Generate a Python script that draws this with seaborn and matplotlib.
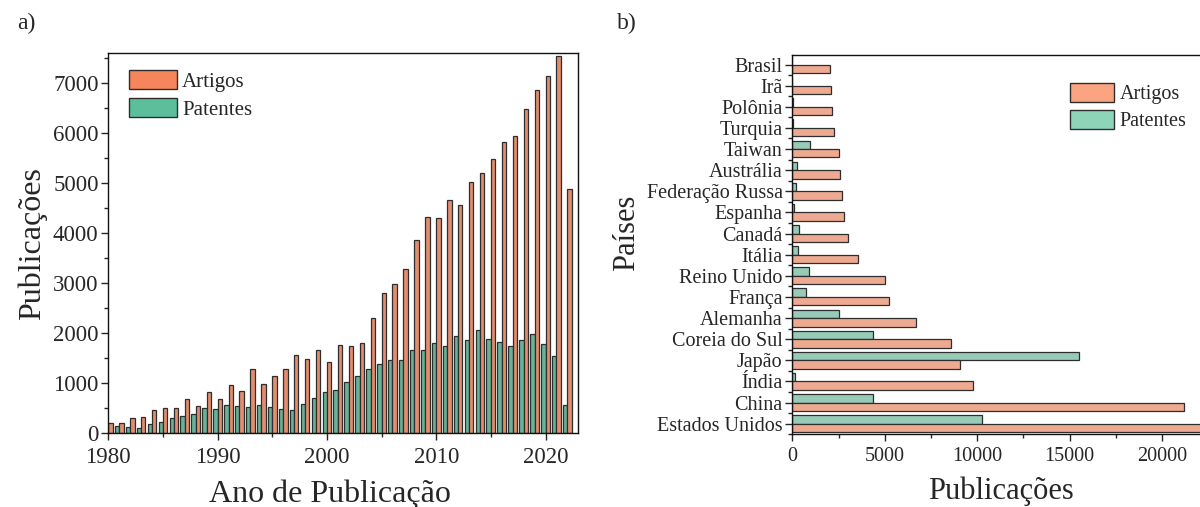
import numpy as np
import pandas as pd
import matplotlib
matplotlib.use("Agg")
import matplotlib.pyplot as plt
from matplotlib.ticker import MultipleLocator, FixedLocator
from matplotlib.patches import Patch
import seaborn as sns

# ---------------- data ----------------
anos = list(range(1980, 2023))
artigos_ano = [200, 200, 305, 335, 466, 513, 513, 693, 546, 833,
               693, 963, 840, 1290, 980, 1153, 1290, 1556, 1483, 1663,
               1426, 1760, 1750, 1813, 2300, 2806, 2976, 3286, 3866, 4313,
               4300, 4653, 4566, 5020, 5206, 5486, 5826, 5940, 6480, 6860,
               7140, 7546, 4886]
patentes_ano = [120, 146, 133, 113, 180, 220, 306, 346, 380, 513,
                486, 573, 540, 526, 573, 523, 480, 466, 580, 703,
                826, 860, 1020, 1136, 1283, 1380, 1463, 1470, 1666, 1656,
                1813, 1746, 1940, 1866, 2060, 1893, 1820, 1753, 1866, 1980,
                1786, 1540, 573]

paises = ["Brasil", "Irã", "Polônia", "Turquia", "Taiwan", "Austrália",
          "Federação Russa", "Espanha", "Canadá", "Itália", "Reino Unido",
          "França", "Alemanha", "Coreia do Sul", "Japão", "Índia", "China",
          "Estados Unidos"]
artigos_pais = [2035, 2070, 2125, 2250, 2520, 2555, 2665, 2810, 2990, 3550,
                4990, 5220, 6720, 8610, 9060, 9760, 21220, 23500]
patentes_pais = [0, 0, 20, 40, 955, 270, 180, 90, 380, 290,
                 920, 760, 2540, 4360, 15510, 145, 4380, 10250]

series = ["Artigos", "Patentes"]

# ---------------- style ----------------
sns.set_style("ticks")
plt.rcParams["font.family"] = ["Liberation Serif", "DejaVu Serif"]
plt.rcParams["axes.linewidth"] = 1.0
for k in ("xtick.major.width", "ytick.major.width", "xtick.minor.width", "ytick.minor.width"):
    plt.rcParams[k] = 1.0

cores_a = {"Artigos": "#F5855B", "Patentes": "#5CBF9B"}
cores_b = {"Artigos": "#FCA381", "Patentes": "#8ED4B9"}
borda = "#2E2E2E"

df_ano = pd.DataFrame({
    "Ano": anos + anos,
    "Publicações": artigos_ano + patentes_ano,
    "Tipo": [series[0]] * len(anos) + [series[1]] * len(anos),
})
df_pais = pd.DataFrame({
    "País": paises + paises,
    "Publicações": artigos_pais + patentes_pais,
    "Tipo": [series[0]] * len(paises) + [series[1]] * len(paises),
})

W, H = 1200, 507
fig = plt.figure(figsize=(W / 100, H / 100), dpi=100)

def px_axes(left, top, right, bottom):
    return fig.add_axes([left / W, 1 - bottom / H, (right - left) / W, (bottom - top) / H])

# ---------------- a) publications per year ----------------
ax1 = px_axes(108.3, 53, 578.3, 433.3)
sns.barplot(data=df_ano, x="Ano", y="Publicações", hue="Tipo",
            hue_order=["Patentes", "Artigos"], palette=cores_a,
            native_scale=True, width=0.8, errorbar=None,
            edgecolor=borda, linewidth=0.9, legend=False, ax=ax1)
ax1.set_xlim(1980, 2023)
ax1.set_ylim(0, 7600)
ax1.xaxis.set_major_locator(MultipleLocator(10))
ax1.xaxis.set_minor_locator(MultipleLocator(5))
ax1.yaxis.set_major_locator(MultipleLocator(1000))
ax1.yaxis.set_minor_locator(MultipleLocator(500))
ax1.tick_params(axis="both", which="major", direction="out", length=5, labelsize=16.5)
ax1.tick_params(axis="x", which="major", pad=5)
ax1.tick_params(axis="y", which="major", pad=2)
ax1.tick_params(axis="both", which="minor", direction="out", length=3)
for s in ax1.spines.values():
    s.set_visible(True)
    s.set_color("#111111")
ax1.set_xlabel("Ano de Publicação", fontsize=23, labelpad=8)
ax1.set_ylabel("Publicações", fontsize=23, labelpad=4)
ax1.xaxis.label.set_x(0.472)

h1 = [Patch(facecolor=cores_a[s], edgecolor=borda, linewidth=1.0) for s in series]
fig.legend(h1, series, loc="upper left", bbox_to_anchor=(129 / W, 1 - 70 / H),
           frameon=False, fontsize=15, handlelength=2.3, handleheight=1.05,
           handletextpad=0.25, labelspacing=0.3, borderpad=0, borderaxespad=0)

# ---------------- b) publications per country ----------------
ax2 = px_axes(792.3, 55, 792.3 + 92.4 * 5, 434.3)
sns.barplot(data=df_pais, y="País", x="Publicações", hue="Tipo",
            order=paises, hue_order=["Patentes", "Artigos"], palette=cores_b,
            orient="h", width=0.8, errorbar=None,
            edgecolor=borda, linewidth=0.9, legend=False, ax=ax2)
ax2.set_xlim(0, 25000)
ax2.set_ylim(len(paises) - 0.5, -0.45)
ax2.xaxis.set_major_locator(FixedLocator([0, 5000, 10000, 15000, 20000]))
ax2.xaxis.set_minor_locator(FixedLocator([2500, 7500, 12500, 17500, 22500]))
ax2.yaxis.set_minor_locator(FixedLocator(np.arange(-0.5, len(paises), 1.0)))
ax2.tick_params(axis="both", which="major", direction="out", length=5, labelsize=14.5, pad=2)
ax2.tick_params(axis="x", which="major", pad=4)
ax2.tick_params(axis="both", which="minor", direction="out", length=3)
for s in ax2.spines.values():
    s.set_visible(True)
    s.set_color("#111111")
ax2.set_xlabel("Publicações", fontsize=22, labelpad=8)
ax2.set_ylabel("Países", fontsize=22, labelpad=4)
ax2.xaxis.label.set_x(0.452)
ax2.yaxis.label.set_y(0.53)

h2 = [Patch(facecolor=cores_b[s], edgecolor=borda, linewidth=1.0) for s in series]
fig.legend(h2, series, loc="upper left", bbox_to_anchor=(1070 / W, 1 - 83 / H),
           frameon=False, fontsize=14.5, handlelength=2.2, handleheight=1.05,
           handletextpad=0.25, labelspacing=0.3, borderpad=0, borderaxespad=0)

# panel letters
fig.text(17 / W, 1 - 23 / H, "a)", fontsize=17, va="center", ha="left")
fig.text(617 / W, 1 - 23 / H, "b)", fontsize=17, va="center", ha="left")

fig.savefig("out.png", dpi=100, facecolor="white")
